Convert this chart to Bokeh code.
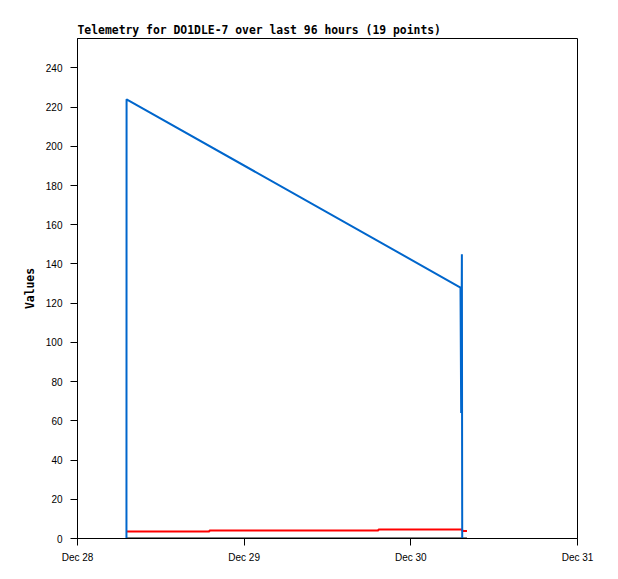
import pandas as pd
from datetime import datetime
from bokeh.plotting import figure
from bokeh.models import Range1d, FixedTicker, DatetimeTickFormatter
from bokeh.embed import file_html
from bokeh.resources import INLINE

# ---- data ----
title_text = "Telemetry for DO1DLE-7 over last 96 hours (19 points)"
x_tick_dates = ["2023-12-28", "2023-12-29", "2023-12-30", "2023-12-31"]
y_ticks = [0, 20, 40, 60, 80, 100, 120, 140, 160, 180, 200, 220, 240]

blue_times = ["2023-12-28 07:03", "2023-12-28 07:04", "2023-12-30 07:09",
              "2023-12-30 07:15", "2023-12-30 07:21", "2023-12-30 07:24"]
blue_values = [0, 224, 128, 64, 145, 0]

red_times = ["2023-12-28 07:03", "2023-12-28 19:00", "2023-12-28 19:01",
             "2023-12-29 19:20", "2023-12-29 19:21", "2023-12-30 07:24",
             "2023-12-30 07:25", "2023-12-30 08:05"]
red_values = [3.6, 3.6, 4.1, 4.1, 4.6, 4.6, 3.8, 3.8]

black_times = ["2023-12-28 07:03", "2023-12-30 08:05"]
black_values = [0, 0]

# ---- figure ----
epoch = datetime(1970, 1, 1)
def ms(s):
    return (pd.Timestamp(s).to_pydatetime() - epoch).total_seconds() * 1000.0

x_start = pd.Timestamp(x_tick_dates[0]).to_pydatetime()
x_end = pd.Timestamp(x_tick_dates[-1]).to_pydatetime()

p = figure(width=610, height=570, x_axis_type="datetime",
           x_range=Range1d(x_start, x_end), y_range=Range1d(0, 255),
           output_backend="svg", toolbar_location=None, title=title_text,
           min_border_left=77, min_border_right=33, min_border_top=38,
           min_border_bottom=32)

p.background_fill_color = "white"
p.border_fill_color = "white"
p.outline_line_color = "black"
p.outline_line_width = 1
p.xgrid.visible = False
p.ygrid.visible = False

p.title.text_font = "DejaVu Sans Mono"
p.title.text_font_style = "bold"
p.title.text_font_size = "11.4px"
p.title.align = "left"
p.title.standoff = 3
p.title.text_color = "black"

for ax in (p.xaxis[0], p.yaxis[0]):
    ax.axis_line_color = "black"
    ax.major_tick_line_color = "black"
    ax.minor_tick_line_color = None
    ax.major_tick_in = 0
    ax.major_tick_out = 7
    ax.major_label_text_font = "Liberation Sans"
    ax.major_label_text_font_size = "10px"
    ax.major_label_text_color = "black"

p.xaxis.major_label_standoff = 6
p.yaxis.major_label_standoff = 8

p.xaxis.ticker = FixedTicker(ticks=[ms(d) for d in x_tick_dates])
fmt = "%b %d"
p.xaxis.formatter = DatetimeTickFormatter(days=fmt, months=fmt, hours=fmt,
                                          hourmin=fmt, minutes=fmt, years=fmt)
p.yaxis.ticker = FixedTicker(ticks=y_ticks)

p.yaxis.axis_label = "Values"
p.yaxis.axis_label_text_font = "DejaVu Sans Mono"
p.yaxis.axis_label_text_font_style = "bold"
p.yaxis.axis_label_text_font_size = "11.4px"
p.yaxis.axis_label_standoff = 6
p.yaxis.axis_label_text_color = "black"

p.line(x=pd.to_datetime(black_times), y=black_values, line_color="black", line_width=2)
p.line(x=pd.to_datetime(red_times), y=red_values, line_color="#ff0000", line_width=2)
p.line(x=pd.to_datetime(blue_times), y=blue_values, line_color="#0066cc", line_width=2)

open("out.html", "w").write(file_html(p, INLINE))
